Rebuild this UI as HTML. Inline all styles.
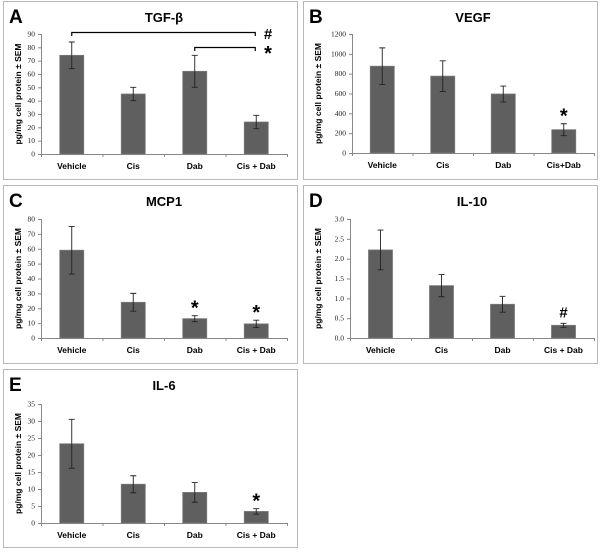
<!DOCTYPE html>
<html><head><meta charset="utf-8"><style>
html,body{margin:0;padding:0;background:#fff;}
svg{display:block;font-family:"Liberation Sans",sans-serif;}
</style></head><body>
<svg id="fig" width="600" height="553" viewBox="0 0 600 553"></svg>
<script>
const categories = ["Vehicle","Cis","Dab","Cis + Dab"];
const categoriesB = ["Vehicle","Cis","Dab","Cis+Dab"];
const tgfValues = [74,45,62,24];
const tgfErr = [10,5,12,5];
const tgfTicks = ["0","10","20","30","40","50","60","70","80","90"];
const vegfValues = [875,775,595,235];
const vegfErr = [185,155,80,60];
const vegfTicks = ["0","200","400","600","800","1000","1200"];
const mcpValues = [59,24,13,9.5];
const mcpErr = [16,6,2,2.5];
const mcpTicks = ["0","10","20","30","40","50","60","70","80"];
const il10Values = [2.22,1.32,0.85,0.32];
const il10Err = [0.5,0.28,0.2,0.05];
const il10Ticks = ["0.0","0.5","1.0","1.5","2.0","2.5","3.0"];
const il6Values = [23.3,11.4,9,3.4];
const il6Err = [7.2,2.5,2.9,0.8];
const il6Ticks = ["0","5","10","15","20","25","30","35"];

const NS="http://www.w3.org/2000/svg";
const svg=document.getElementById('fig');
function mk(tag,attrs,parent,text){const e=document.createElementNS(NS,tag);for(const k in attrs)e.setAttribute(k,attrs[k]);if(text!==undefined)e.textContent=text;(parent||svg).appendChild(e);return e;}

const panels=[
 {id:'a',letter:'A',title:'TGF-β',box:[3,1,294,178],ax:[41,287,34,154],cats:categories,vals:tgfValues,err:tgfErr,ticks:tgfTicks,marks:['','','','']},
 {id:'b',letter:'B',title:'VEGF',box:[303,1,294,178],ax:[352,594,34,153],cats:categoriesB,vals:vegfValues,err:vegfErr,ticks:vegfTicks,marks:['','','','*']},
 {id:'c',letter:'C',title:'MCP1',box:[3,185,294,178],ax:[41,287,219,338],cats:categories,vals:mcpValues,err:mcpErr,ticks:mcpTicks,marks:['','','*','*']},
 {id:'d',letter:'D',title:'IL-10',box:[303,185,294,178],ax:[350,594,219,338],cats:categories,vals:il10Values,err:il10Err,ticks:il10Ticks,marks:['','','','#']},
 {id:'e',letter:'E',title:'IL-6',box:[3,369,294,178],ax:[41,287,404,523],cats:categories,vals:il6Values,err:il6Err,ticks:il6Ticks,marks:['','','','*']}
];

panels.forEach(p=>{
 const g=mk('g',{});
 
 
 const [bx,by,bw,bh]=p.box;
 const r=mk('rect',{x:bx+0.5,y:by+0.5,width:bw,height:bh,fill:'#fff',stroke:'#b8b8b8','stroke-width':1},g);
 
 
 const L=mk('text',{x:bx+6,y:by+22,'font-size':19,'font-weight':'bold',fill:'#000'},g,p.letter);
 
 
 const [x0,x1,yT,y0]=p.ax;
 const T=mk('text',{x:(x0+x1)/2,y:by+21,'font-size':13,'font-weight':'bold','text-anchor':'middle'},g,p.title);
 
 
 const n=p.ticks.length-1;
 const maxV=parseFloat(p.ticks[n]);
 const yS=v=>y0-(v/maxV)*(y0-yT);
 const bandW=(x1-x0)/p.cats.length;
 const xC=i=>x0+bandW*(i+0.5);
 // axes
 const ya=mk('line',{x1:x0+0.5,y1:yT,x2:x0+0.5,y2:y0,stroke:'#888'},g);
 
 
 const xa=mk('line',{x1:x0,y1:y0+0.5,x2:x1,y2:y0+0.5,stroke:'#888'},g);
 
 
 p.ticks.forEach((t,i)=>{
  const v=parseFloat(t);const y=yS(v);
  mk('line',{x1:x0-3,y1:y+0.5,x2:x0,y2:y+0.5,stroke:'#888'},g);
  const tl=mk('text',{x:x0-6,y:y+2.5,'font-size':7.5,'text-anchor':'end',fill:'#222','font-family':'Liberation Serif, serif'},g,t);
  
  
 });
 for(let i=0;i<=p.cats.length;i++){const x=x0+bandW*i;mk('line',{x1:x+0.5,y1:y0,x2:x+0.5,y2:y0+3,stroke:'#888'},g);}
 const yt=mk('text',{transform:`translate(${bx+18},${(yT+y0)/2}) rotate(-90)`,'font-size':8.5,'font-weight':'bold','text-anchor':'middle'},g,'pg/mg cell protein ± SEM');
 
 
 p.vals.forEach((v,i)=>{
  const cx=xC(i);const bwid=24;
  const b=mk('rect',{x:cx-bwid/2,y:yS(v),width:bwid,height:y0-yS(v),fill:'#5f5f5f',stroke:'#7a7a7a','stroke-width':0.8},g);
  
  
  const hi=yS(v+p.err[i]),lo=yS(v-p.err[i]);
  const eb=mk('path',{d:`M${cx} ${hi}V${lo}M${cx-3} ${hi}H${cx+3}M${cx-3} ${lo}H${cx+3}`,stroke:'#222','stroke-width':0.9,fill:'none'},g);
  
  
  const xl=mk('text',{x:cx,y:y0+15,'font-size':8.5,'font-weight':'bold','text-anchor':'middle'},g,p.cats[i]);
  
  
  if(p.marks[i]){
   const m=mk('text',{x:cx,y:hi-6,'font-size':p.marks[i]==='*'?20:15,'font-weight':'bold','text-anchor':'middle'},g,p.marks[i]);
   if(p.marks[i]==='*') m.setAttribute('y',hi-1);
   
   
  }
 });
 if(p.id==='a'){
  const b1=mk('path',{d:`M${xC(0)} 36V32.5H${xC(3)-1}V36`,stroke:'#000','stroke-width':1.2,fill:'none'},g);
  
  
  const b2=mk('path',{d:`M${xC(2)} 51V47.5H${xC(3)-1}V51`,stroke:'#000','stroke-width':1.2,fill:'none'},g);
  
  
  const h=mk('text',{x:268,y:39,'font-size':15,'font-weight':'bold','text-anchor':'middle'},g,'#');
  
  
  const s=mk('text',{x:268,y:60,'font-size':20,'font-weight':'bold','text-anchor':'middle'},g,'*');
  
  
 }
});
</script>
</body></html>
